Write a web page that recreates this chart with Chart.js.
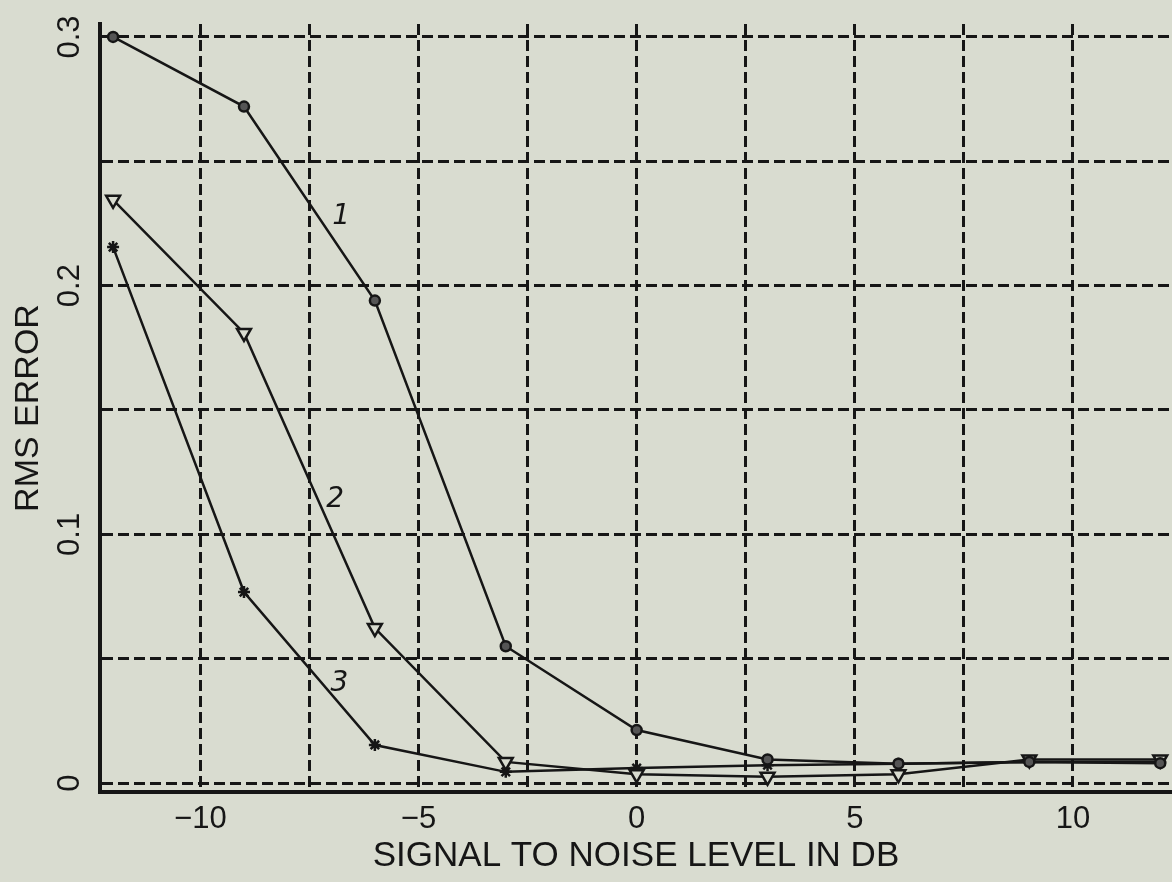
<!DOCTYPE html>
<html>
<head>
<meta charset="utf-8">
<title>RMS error vs SNR</title>
<script src="https://cdn.jsdelivr.net/npm/chart.js@4.4.1/dist/chart.umd.min.js"></script>
<style>
  html, body { margin: 0; padding: 0; background: #d9dcd0; }
  #contenedor { width: 1172px; height: 882px; }
</style>
</head>
<body>
<div id="contenedor"><canvas id="grafica" width="1172" height="882"></canvas></div>
<script>
// Niveles de señal a ruido (dB) y error RMS de cada curva
const snr = [-12, -9, -6, -3, 0, 3, 6, 9, 12];
const curva1 = [0.300, 0.272, 0.194, 0.055, 0.0213, 0.0095, 0.0078, 0.0085, 0.0080];
const curva2 = [0.2345, 0.181, 0.0623, 0.0085, 0.0035, 0.0025, 0.0035, 0.0095, 0.0095];
const curva3 = [0.2155, 0.0768, 0.0153, 0.0045, 0.0060, 0.0072, 0.0078, 0.0085, 0.0085];
const etiquetasCurvas = ['1', '2', '3'];

// Marcas de los ejes
const ticksX = [-10, -5, 0, 5, 10];
const ticksY = [0, 0.1, 0.2, 0.3];

const tinta = '#161616';
const fondo = '#d9dcd0';
const fuente = '"Liberation Sans", Arial, sans-serif';

function puntos(valores) {
  return snr.map((x, i) => ({ x: x, y: valores[i] }));
}

// Etiquetas del eje Y giradas y números de cada curva
const textosExtra = {
  id: 'textosExtra',
  afterDraw(chart) {
    const ctx = chart.ctx;
    const sx = chart.scales.x;
    const sy = chart.scales.y;
    ctx.save();
    ctx.fillStyle = tinta;
    ctx.font = '31px ' + fuente;
    ctx.textAlign = 'center';
    ctx.textBaseline = 'middle';
    ticksY.forEach(v => {
      ctx.save();
      ctx.translate(70, sy.getPixelForValue(v));
      ctx.rotate(-Math.PI / 2);
      ctx.fillText(String(v), 0, 0);
      ctx.restore();
    });

    // número de curva junto al tramo entre -9 y -6 dB
    const anclas = [{ x: -7.3, dx: 23 }, { x: -7.3, dx: 17 }, { x: -7.2, dx: 17 }];
    const series = [curva1, curva2, curva3];
    ctx.font = 'italic 28px "DejaVu Sans", sans-serif';
    series.forEach((serie, k) => {
      const a = anclas[k];
      const t = (a.x - snr[1]) / (snr[2] - snr[1]);
      const y = serie[1] + t * (serie[2] - serie[1]);
      ctx.fillText(etiquetasCurvas[k], sx.getPixelForValue(a.x) + a.dx, sy.getPixelForValue(y));
    });
    ctx.restore();
  }
};

const estiloLinea = {
  borderColor: tinta,
  borderWidth: 2.5,
  pointBorderColor: tinta,
  pointBorderWidth: 2.5,
  tension: 0,
  fill: false
};

new Chart(document.getElementById('grafica'), {
  type: 'line',
  data: {
    datasets: [
      Object.assign({}, estiloLinea, {
        label: 'Curva 1',
        data: puntos(curva1),
        pointStyle: 'circle',
        pointRadius: 5,
        pointBackgroundColor: '#555'
      }),
      Object.assign({}, estiloLinea, {
        label: 'Curva 2',
        data: puntos(curva2),
        pointStyle: 'triangle',
        pointRotation: 180,
        pointRadius: 8,
        pointBackgroundColor: fondo
      }),
      Object.assign({}, estiloLinea, {
        label: 'Curva 3',
        data: puntos(curva3),
        pointStyle: 'star',
        pointRadius: 6,
        pointBackgroundColor: tinta
      })
    ]
  },
  options: {
    responsive: false,
    animation: false,
    devicePixelRatio: 1,
    layout: { autoPadding: false, padding: { top: 24, left: 0, right: 0, bottom: 0 } },
    plugins: {
      legend: { display: false },
      tooltip: { enabled: false }
    },
    scales: {
      x: {
        type: 'linear',
        min: -12.3,
        max: 12.27,
        afterFit(s) {
          s.height = 90;
          s.paddingLeft = 0;
          s.paddingRight = 0;
        },
        afterBuildTicks(s) {
          // rejilla cada 2.5 dB
          s.ticks = [];
          for (let v = -10; v <= 10; v += 2.5) s.ticks.push({ value: v });
        },
        ticks: {
          color: tinta,
          padding: 9,
          font: { family: fuente, size: 31 },
          maxRotation: 0,
          callback: v => ticksX.includes(v) ? String(v).replace('-', '\u2212') : ''
        },
        grid: { color: tinta, lineWidth: 3, drawTicks: false },
        border: { display: true, color: tinta, width: 4, dash: [11, 5] },
        title: {
          display: true,
          text: 'SIGNAL TO NOISE LEVEL IN DB',
          color: tinta,
          font: { family: fuente, size: 35 },
          padding: { top: 0, bottom: 5 }
        }
      },
      y: {
        type: 'linear',
        min: -0.0036,
        max: 0.3052,
        afterFit(s) { s.width = 100; },
        afterBuildTicks(s) {
          // rejilla cada 0.05
          s.ticks = [];
          for (let i = 0; i <= 6; i++) s.ticks.push({ value: i * 0.05 });
        },
        ticks: { display: false },
        grid: { color: tinta, lineWidth: 3, drawTicks: false },
        border: { display: true, color: tinta, width: 4, dash: [11, 5] },
        title: {
          display: true,
          text: 'RMS ERROR',
          color: tinta,
          font: { family: fuente, size: 34 },
          padding: { top: 8, bottom: 0 }
        }
      }
    }
  },
  plugins: [textosExtra]
});
</script>
</body>
</html>
